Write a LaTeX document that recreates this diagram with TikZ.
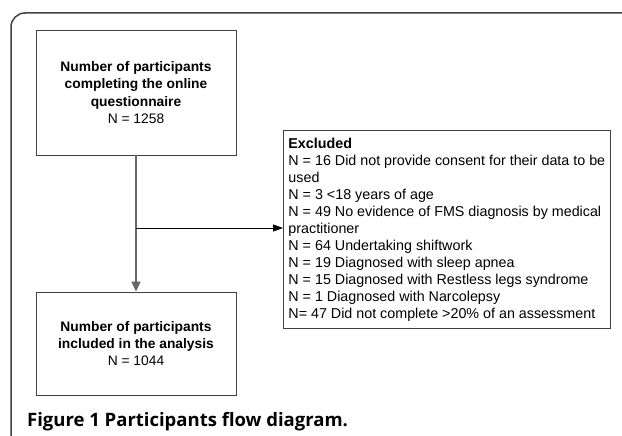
\documentclass[tikz,border=0pt]{standalone}
\usepackage{fontspec}
\setmainfont{Liberation Sans}
\newfontfamily\capfont{Open Sans}
\usepackage{tikz}
\usetikzlibrary{arrows.meta, positioning}

\begin{document}
\begin{tikzpicture}[x=1pt, y=-1pt,
    box/.style={rectangle, draw=black!75, line width=0.9pt, align=center,
                font=\fontsize{13.8}{17.3}\selectfont, inner sep=0pt},
    lst/.style={rectangle, draw=black!75, line width=0.9pt, align=left,
                font=\fontsize{14.3}{17}\selectfont, inner xsep=5pt, inner ysep=4pt,
                anchor=north west, minimum width=326pt, minimum height=198pt},
    down/.style={-{Triangle[length=10pt, width=9pt]}, draw=black!60, line width=1.4pt},
    side/.style={-{Triangle[length=10pt, width=7pt]}, draw=black, line width=0.8pt}]
  \useasboundingbox (0,0) rectangle (622,436);
  % frame of the figure
  \draw[black!75, line width=1.5pt, rounded corners=14pt]
    (11,440) -- (11,13) -- (626,13);
  \node[box, minimum width=200pt, minimum height=125pt] (start) at (136,92.5)
    {\textbf{Number of participants}\\\textbf{completing the online}\\\textbf{questionnaire}\\N = 1258};
  \node[box, minimum width=200pt, minimum height=103pt] (included) at (136,343.5)
    {\textbf{Number of participants}\\\textbf{included in the analysis}\\N = 1044};
  \node[lst] (excluded) at (283,130)
    {\textbf{Excluded}\\
     N = 16 Did not provide consent for their data to be\\
     used\\
     N = 3 <18 years of age\\
     N = 49 No evidence of FMS diagnosis by medical\\
     practitioner\\
     N = 64 Undertaking shiftwork\\
     N = 19 Diagnosed with sleep apnea\\
     N = 15 Diagnosed with Restless legs syndrome\\
     N = 1 Diagnosed with Narcolepsy\\
     N= 47 Did not complete >20\% of an assessment};
  \coordinate (split) at (136,228);
  \draw[down] (start) -- (included);
  \draw[side] (split) -- (split -| excluded.west);
  \node[anchor=base west, inner sep=0pt, font=\capfont\bfseries\fontsize{18.5}{22}\selectfont]
    (caption) at (27,426) {Figure 1 Participants flow diagram.};
\end{tikzpicture}
\end{document}
